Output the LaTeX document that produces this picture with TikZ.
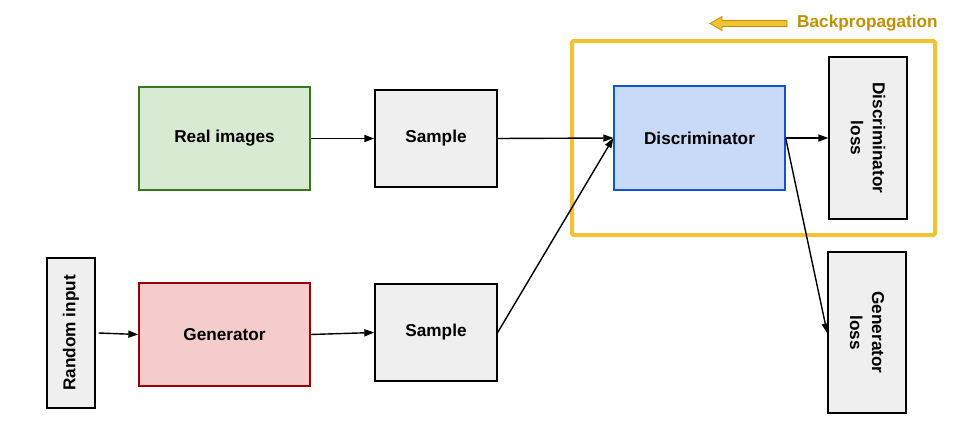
\documentclass[tikz,border=0pt]{standalone}
\usepackage{fontspec}
\setmainfont{Liberation Sans}
\usetikzlibrary{arrows.meta}
\definecolor{greenF}{HTML}{D9EAD3}
\definecolor{greenB}{HTML}{38761D}
\definecolor{redF}{HTML}{F4CCCC}
\definecolor{redB}{HTML}{990000}
\definecolor{blueF}{HTML}{C9DAF8}
\definecolor{blueB}{HTML}{1155CC}
\definecolor{grayF}{HTML}{EFEFEF}
\definecolor{yel}{HTML}{F1C232}
\definecolor{yelD}{HTML}{BF9000}
\begin{document}
\begin{tikzpicture}[x=1pt,y=-1pt,
  lbl/.style={font=\fontsize{17.2}{22}\selectfont\bfseries, align=center},
  box/.style={draw, line width=1.3pt, inner sep=0pt, lbl},
  arr/.style={line width=1.4pt, -{Triangle[length=10pt,width=7pt]}}]
\useasboundingbox (0,0) rectangle (979,442);
% yellow frame
\draw[yel, line width=4pt, rounded corners=1.5pt] (572,41) rectangle (935,235);
% nodes
\node[box, fill=greenF, draw=greenB, minimum width=171pt, minimum height=103pt] (real) at (224.5,138.5) {Real images};
\node[box, fill=grayF, minimum width=122pt, minimum height=97pt] (s1) at (436,138.5) {\raisebox{5pt}{Sample}};
\node[box, fill=blueF, draw=blueB, minimum width=171pt, minimum height=104pt] (disc) at (699.5,138) {Discriminator};
\node[box, fill=grayF, minimum width=78pt, minimum height=162pt] (dloss) at (868,138) {};
\node[lbl, rotate=-90] (dlosst) at (dloss.center) {Discriminator\\loss};
\node[box, fill=grayF, minimum width=48pt, minimum height=150pt] (rand) at (71,333) {};
\node[lbl, rotate=90] (randt) at (rand.center) {Random input};
\node[box, fill=redF, draw=redB, minimum width=171pt, minimum height=103pt] (gen) at (224.5,334.5) {Generator};
\node[box, fill=grayF, minimum width=122pt, minimum height=97pt] (s2) at (436,332.5) {\raisebox{3pt}{Sample}};
\node[box, fill=grayF, minimum width=78pt, minimum height=161pt] (gloss) at (867,332.5) {};
\node[lbl, rotate=-90] (glosst) at (gloss.center) {Generator\\loss};
% connectors
\draw[arr] (real.east) -- (s1.west);
\draw[arr] (s1.east) -- (disc.west);
\draw[arr] (s2.east) -- (disc.west);
\draw[arr] ([xshift=3pt]rand.east) -- (gen.west);
\draw[arr] (gen.east) -- (s2.west);
\draw[arr] (disc.east) -- (dloss.west);
\draw[arr] (disc.east) -- ([yshift=-1pt]gloss.west);
% backpropagation
\coordinate (bp) at (710,23.5);
\draw[yelD, fill=yel, line width=0.8pt] (bp) -- ++(12,-7) -- ++(0,4) -- ++(65,0) -- ++(0,6) -- ++(-65,0) -- ++(0,4) -- cycle;
\node[anchor=west, text=yelD, lbl, inner sep=0pt] (bpt) at (797,23) {Backpropagation};
\end{tikzpicture}
\end{document}
